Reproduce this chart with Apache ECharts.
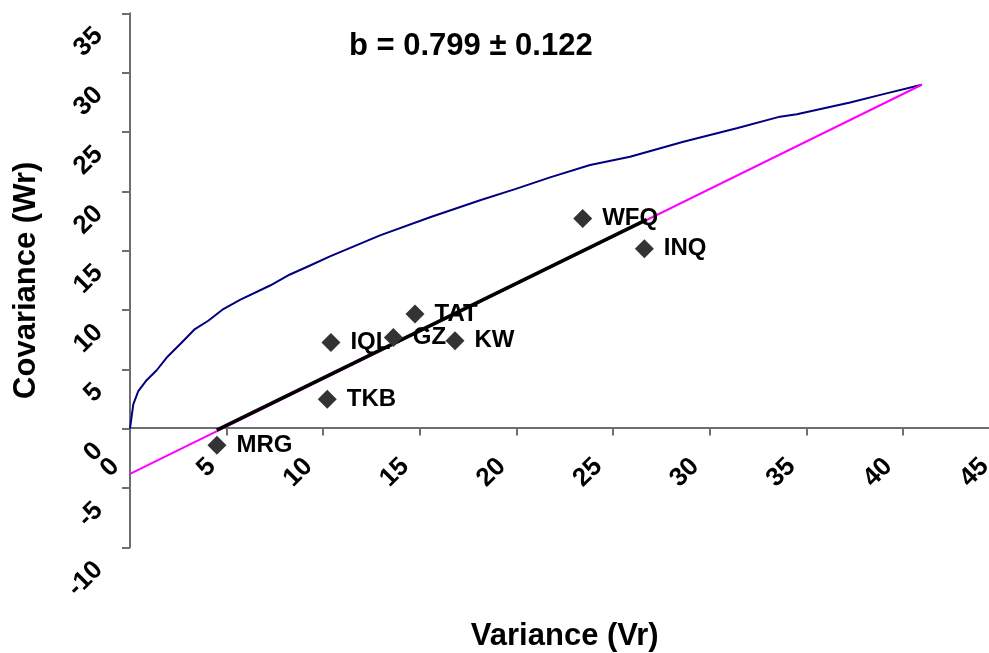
<!DOCTYPE html>
<html>
<head>
<meta charset="utf-8">
<script src="https://cdn.jsdelivr.net/npm/echarts@6/dist/echarts.min.js"></script>
<style>
  html, body { margin: 0; padding: 0; background: #fff; }
</style>
</head>
<body>
<div id="wrChart" style="width:989px;height:653px"></div>
<script>
// Wr/Vr 抛物线 (蓝色)
const curveVr = [0, 0.17, 0.43, 0.86, 1.38, 1.90, 2.68, 3.36, 4.05, 4.83, 5.69, 7.25, 8.28, 9.32, 10.35,
  12.94, 15.53, 18.12, 19.93, 21.74, 23.81, 25.88, 28.64, 31.40, 33.64, 34.51, 37.27, 38.99, 40.98];
const curveWr = [0, 2.05, 3.17, 4.08, 4.92, 5.99, 7.26, 8.39, 9.09, 10.08, 10.85, 12.06, 12.99, 13.75, 14.51,
  16.29, 17.81, 19.25, 20.18, 21.17, 22.21, 22.91, 24.18, 25.31, 26.29, 26.50, 27.48, 28.19, 28.98];

// 延长线 (品红)
const limitVr = [0, 40.98];
const limitWr = [-3.82, 28.98];

// 回归线 (黑色)
const fitVr = [4.49, 26.74];
const fitWr = [-0.12, 17.61];

// 亲本点
const parents = ['MRG', 'TKB', 'IQL', 'GZ', 'TAT', 'KW', 'WFQ', 'INQ'];
const parentVr = [4.50, 10.21, 10.40, 13.63, 14.75, 16.82, 23.43, 26.62];
const parentWr = [-1.40, 2.47, 7.26, 7.68, 9.66, 7.40, 17.70, 15.16];

const xTicks = [0, 45, 5];   // min, max, interval
const yTicks = [-10, 35, 5];

const zip = (xs, ys) => xs.map((x, i) => [x, ys[i]]);
const font = 'Liberation Sans, Arial, sans-serif';

let chart = echarts.init(document.getElementById('wrChart'));
chart.setOption({
  animation: false,
  title: {
    text: 'b = 0.799 ± 0.122',
    left: 344,
    top: 26,
    textStyle: { fontFamily: font, fontSize: 31, fontWeight: 'bold', color: '#000' }
  },
  // 不让轴名/标签挤压绘图区
  grid: { left: 130, top: 13.3, right: -10.5, bottom: 105.7, outerBoundsMode: 'none', containLabel: false },
  xAxis: {
    type: 'value',
    min: xTicks[0], max: xTicks[1], interval: xTicks[2],
    // x 轴整体放在 y=0 处 (10 个单位 = 119.8px)
    offset: -119.8,
    name: 'Variance (Vr)',
    nameLocation: 'middle',
    nameGap: 193,
    nameTextStyle: { fontFamily: font, fontSize: 31, fontWeight: 'bold', color: '#000' },
    axisLine: { onZero: false, lineStyle: { color: '#6e6e6e', width: 2 } },
    axisTick: { length: 8, lineStyle: { color: '#6e6e6e', width: 2 } },
    axisLabel: {
      rotate: 45, margin: 20, padding: [0, 21, 0, 0],
      fontFamily: font, fontSize: 26, fontWeight: 'bold', color: '#000'
    },
    splitLine: { show: false }
  },
  yAxis: {
    type: 'value',
    min: yTicks[0], max: yTicks[1], interval: yTicks[2],
    name: 'Covariance (Wr)',
    nameLocation: 'middle',
    nameRotate: 90,
    nameGap: 88,
    nameTextStyle: { fontFamily: font, fontSize: 31, fontWeight: 'bold', color: '#000' },
    axisLine: { lineStyle: { color: '#6e6e6e', width: 2 } },
    axisTick: { length: 8, lineStyle: { color: '#6e6e6e', width: 2 } },
    axisLabel: {
      rotate: 45, margin: 13, padding: [0, 26, 0, 0],
      fontFamily: font, fontSize: 26, fontWeight: 'bold', color: '#000'
    },
    splitLine: { show: false }
  },
  series: [
    {
      type: 'line',
      data: zip(curveVr, curveWr),
      showSymbol: false,
      lineStyle: { color: '#000080', width: 2 }
    },
    {
      type: 'line',
      data: zip(limitVr, limitWr),
      showSymbol: false,
      lineStyle: { color: '#ff00ff', width: 2 }
    },
    {
      type: 'line',
      data: zip(fitVr, fitWr),
      showSymbol: false,
      lineStyle: { color: '#000', width: 3.5 }
    },
    {
      type: 'scatter',
      symbol: 'diamond',
      symbolSize: 19,
      itemStyle: { color: '#333', opacity: 1 },
      data: parents.map((n, i) => ({ name: n, value: [parentVr[i], parentWr[i]] })),
      label: {
        show: true,
        position: 'right',
        distance: 10,
        formatter: p => p.name,
        fontFamily: font, fontSize: 24, fontWeight: 'bold', color: '#000'
      },
      z: 5
    }
  ]
});
</script>
</body>
</html>
